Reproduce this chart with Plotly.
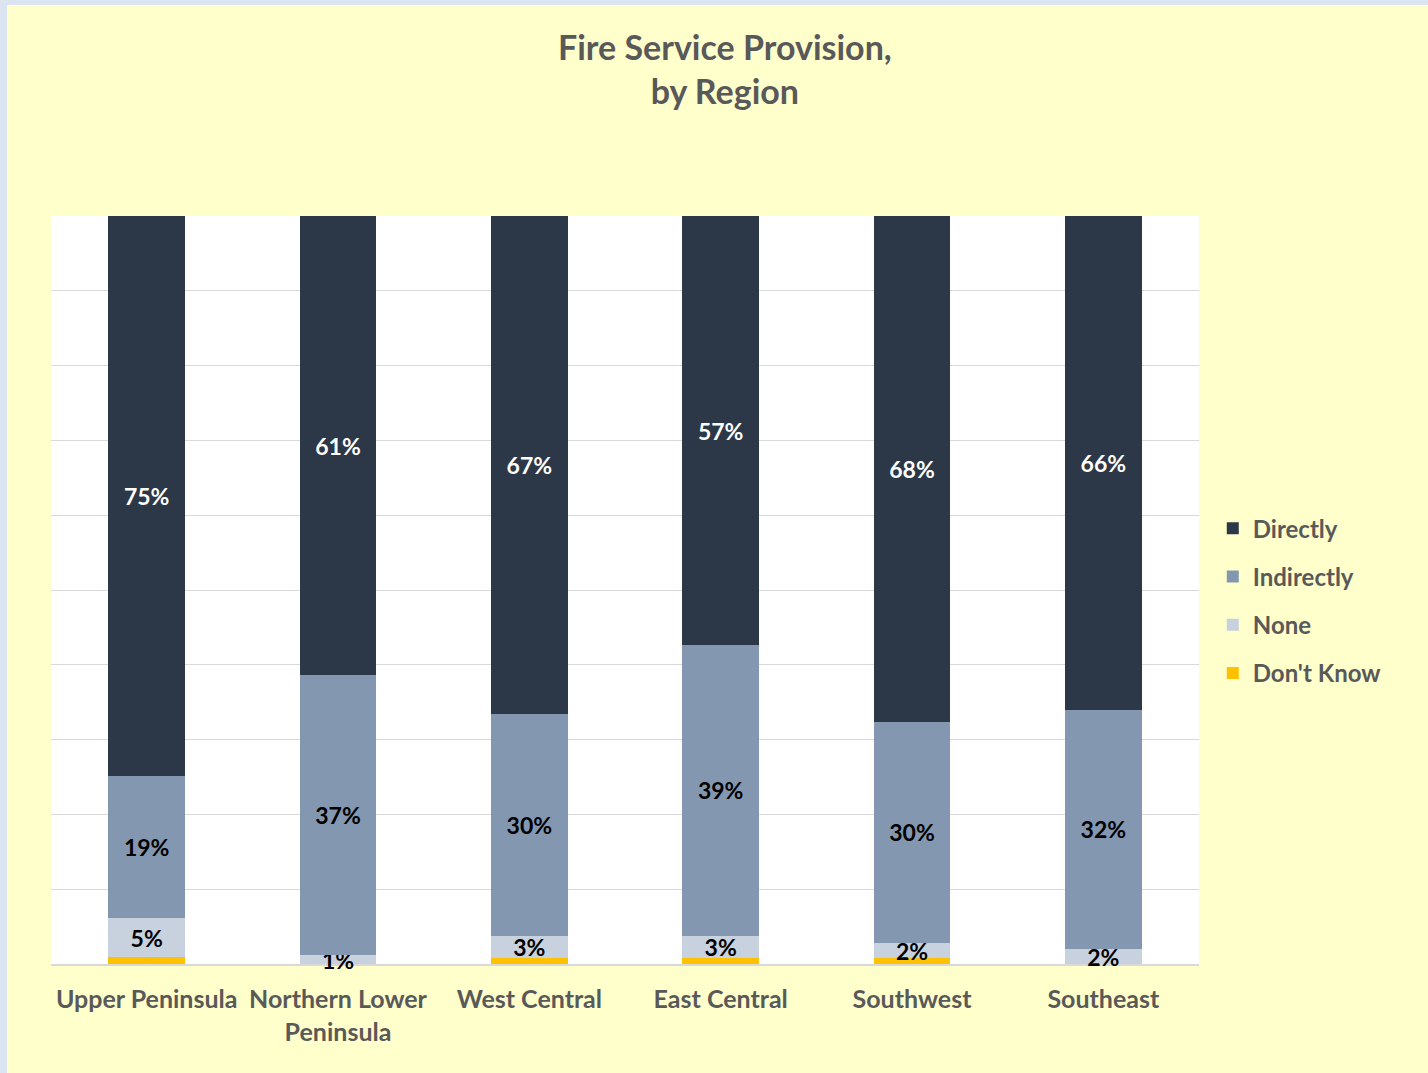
import plotly.graph_objects as go

regions = ["Upper Peninsula", "Northern Lower<br>Peninsula", "West Central",
           "East Central", "Southwest", "Southeast"]
dont_know = [0.9, 0.0, 0.8, 0.8, 0.8, 0.0]
none_vals = [5.2, 1.2, 3.0, 3.0, 2.0, 2.0]
indirectly = [19.0, 37.4, 29.6, 38.8, 29.6, 32.0]
directly = [74.9, 61.4, 66.6, 57.4, 67.6, 66.0]

series = [
    ("Don't Know", dont_know, "#FFC000", None, 4),
    ("None", none_vals, "#C8D1DE", "#000000", 3),
    ("Indirectly", indirectly, "#8497B0", "#000000", 2),
    ("Directly", directly, "#2C3748", "#FFFFFF", 1),
]

FONT = "Lato"
GREY = "#595959"

fig = go.Figure()
for name, vals, color, tcolor, rank in series:
    if tcolor is not None:
        kw = dict(texttemplate="%{y:.0f}%", textposition="inside",
                  insidetextanchor="middle", textangle=0,
                  textfont=dict(family=FONT, size=23, color=tcolor, weight=700))
    else:
        kw = dict(textposition="none")
    fig.add_trace(go.Bar(x=regions, y=vals, name=name, marker_color=color,
                         marker_line_width=0, width=0.4, legendgroup=name,
                         legendrank=rank, cliponaxis=False,
                         hoverinfo="skip", **kw))

fig.add_annotation(text="Fire Service Provision,<br>by Region",
                   xref="paper", yref="paper", x=0.587, y=1.257,
                   xanchor="center", yanchor="top", showarrow=False,
                   font=dict(family=FONT, size=34, color=GREY, weight=700))

fig.update_layout(
    barmode="stack",
    width=1421, height=1068,
    margin=dict(l=44, r=229, t=211, b=109),
    paper_bgcolor="#FFFFCC",
    plot_bgcolor="#FFFFFF",
    uniformtext=dict(mode="show", minsize=23),
    legend=dict(x=1.012, xanchor="left", y=0.612, yanchor="top",
                traceorder="grouped", tracegroupgap=14,
                font=dict(family=FONT, size=24, color=GREY, weight=700),
                bgcolor="rgba(0,0,0,0)", itemwidth=30),
    xaxis=dict(showline=True, linecolor="#D9D9D9", linewidth=2,
               layer="below traces",
               ticks="outside", ticklen=12, tickcolor="rgba(0,0,0,0)",
               tickfont=dict(family=FONT, size=25, color=GREY, weight=700)),
    yaxis=dict(range=[0, 100], dtick=10, showticklabels=False,
               showgrid=True, gridcolor="#D9D9D9", gridwidth=1,
               zeroline=False),
)

fig.write_html("out.html",
               post_script="document.body.style.margin='5px 0 0 7px';"
                           "document.body.style.background='#DCE3F1';")
